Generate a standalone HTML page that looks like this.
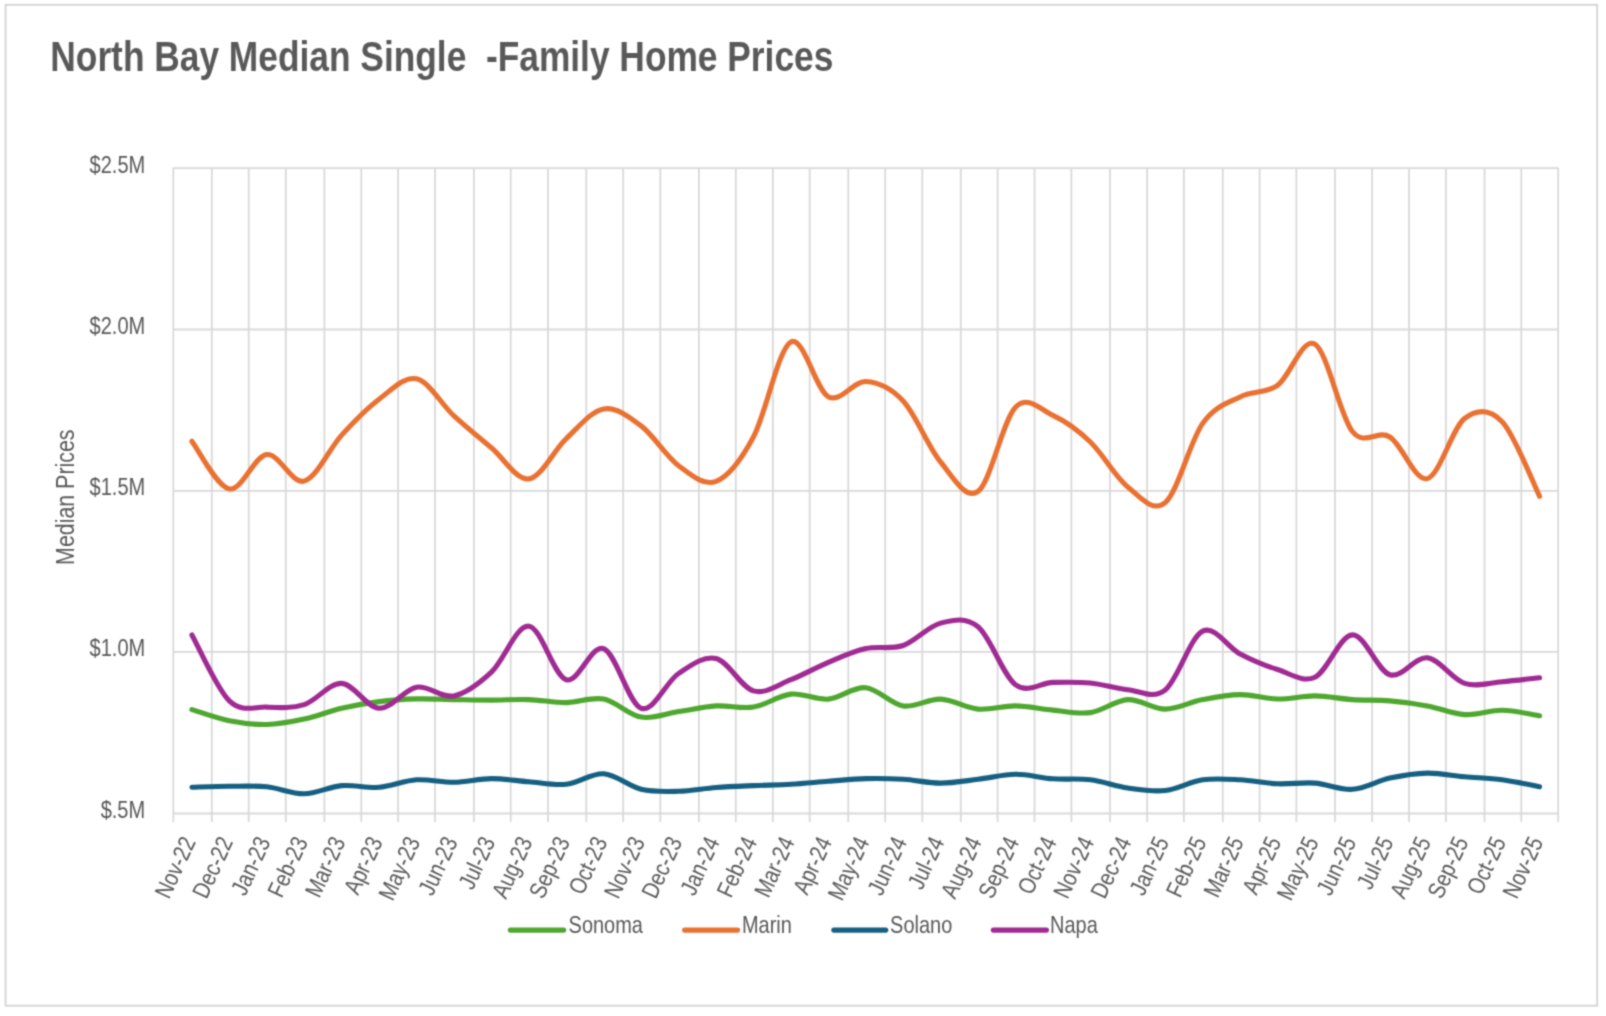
<!DOCTYPE html>
<html><head><meta charset="utf-8"><title>North Bay Median Single-Family Home Prices</title>
<style>
html,body{margin:0;padding:0;background:#fff;}
body{width:1606px;height:1016px;overflow:hidden;font-family:"Liberation Sans",sans-serif;}
svg{display:block;}
svg text{font-family:"Liberation Sans",sans-serif;fill:#595959;}
</style></head><body>
<svg width="1606" height="1016" viewBox="0 0 1606 1016">
<defs><filter id="soft" x="0" y="0" width="1606" height="1016" filterUnits="userSpaceOnUse" color-interpolation-filters="sRGB"><feConvolveMatrix order="3" kernelMatrix="0.04000 0.12000 0.04000 0.12000 0.36000 0.12000 0.04000 0.12000 0.04000" divisor="1" edgeMode="duplicate" preserveAlpha="true"/></filter></defs>
<g filter="url(#soft)">
<rect x="0" y="0" width="1606" height="1016" fill="#fff"/>
<rect x="5.6" y="4.8" width="1591.6" height="1000.9" fill="none" stroke="#D3D3D3" stroke-width="1.8"/>
<path d="M172.50,168.20H1559.00M172.50,329.50H1559.00M172.50,490.80H1559.00M172.50,651.80H1559.00M172.50,813.50H1559.00M173.30,168.20V822.10M211.80,168.20V822.10M248.70,168.20V822.10M285.80,168.20V822.10M324.40,168.20V822.10M361.30,168.20V822.10M398.10,168.20V822.10M435.00,168.20V822.10M473.90,168.20V822.10M510.70,168.20V822.10M548.00,168.20V822.10M586.30,168.20V822.10M623.20,168.20V822.10M660.30,168.20V822.10M698.90,168.20V822.10M735.80,168.20V822.10M772.90,168.20V822.10M809.70,168.20V822.10M848.30,168.20V822.10M885.20,168.20V822.10M922.30,168.20V822.10M960.80,168.20V822.10M997.60,168.20V822.10M1034.50,168.20V822.10M1071.40,168.20V822.10M1110.00,168.20V822.10M1147.10,168.20V822.10M1183.90,168.20V822.10M1222.80,168.20V822.10M1259.60,168.20V822.10M1296.40,168.20V822.10M1335.00,168.20V822.10M1372.10,168.20V822.10M1409.00,168.20V822.10M1445.90,168.20V822.10M1484.50,168.20V822.10M1521.30,168.20V822.10M1558.20,168.20V822.10" fill="none" stroke="#D9D9D9" stroke-width="1.8"/>
<text transform="translate(50.30,70.80) scale(0.828,1)" font-size="42.67" text-anchor="start" font-weight="bold">North Bay Median Single&#160;&#160;-Family Home Prices</text>
<text transform="translate(145.20,172.80) scale(0.835,1)" font-size="24" text-anchor="end" font-weight="normal">$2.5M</text>
<text transform="translate(145.20,334.10) scale(0.835,1)" font-size="24" text-anchor="end" font-weight="normal">$2.0M</text>
<text transform="translate(145.20,495.40) scale(0.835,1)" font-size="24" text-anchor="end" font-weight="normal">$1.5M</text>
<text transform="translate(145.20,656.40) scale(0.835,1)" font-size="24" text-anchor="end" font-weight="normal">$1.0M</text>
<text transform="translate(145.20,818.10) scale(0.835,1)" font-size="24" text-anchor="end" font-weight="normal">$.5M</text>
<text transform="translate(73.90,497.20) rotate(-90) scale(0.802,1)" font-size="26.67" text-anchor="middle" font-weight="normal">Median Prices</text>
<text transform="translate(196.12,841.80) rotate(-65) scale(0.83,1)" font-size="24" text-anchor="end" font-weight="normal">Nov-22</text>
<text transform="translate(233.55,841.80) rotate(-65) scale(0.83,1)" font-size="24" text-anchor="end" font-weight="normal">Dec-22</text>
<text transform="translate(270.99,841.80) rotate(-65) scale(0.83,1)" font-size="24" text-anchor="end" font-weight="normal">Jan-23</text>
<text transform="translate(308.42,841.80) rotate(-65) scale(0.83,1)" font-size="24" text-anchor="end" font-weight="normal">Feb-23</text>
<text transform="translate(345.86,841.80) rotate(-65) scale(0.83,1)" font-size="24" text-anchor="end" font-weight="normal">Mar-23</text>
<text transform="translate(383.29,841.80) rotate(-65) scale(0.83,1)" font-size="24" text-anchor="end" font-weight="normal">Apr-23</text>
<text transform="translate(420.73,841.80) rotate(-65) scale(0.83,1)" font-size="24" text-anchor="end" font-weight="normal">May-23</text>
<text transform="translate(458.16,841.80) rotate(-65) scale(0.83,1)" font-size="24" text-anchor="end" font-weight="normal">Jun-23</text>
<text transform="translate(495.60,841.80) rotate(-65) scale(0.83,1)" font-size="24" text-anchor="end" font-weight="normal">Jul-23</text>
<text transform="translate(533.03,841.80) rotate(-65) scale(0.83,1)" font-size="24" text-anchor="end" font-weight="normal">Aug-23</text>
<text transform="translate(570.47,841.80) rotate(-65) scale(0.83,1)" font-size="24" text-anchor="end" font-weight="normal">Sep-23</text>
<text transform="translate(607.90,841.80) rotate(-65) scale(0.83,1)" font-size="24" text-anchor="end" font-weight="normal">Oct-23</text>
<text transform="translate(645.34,841.80) rotate(-65) scale(0.83,1)" font-size="24" text-anchor="end" font-weight="normal">Nov-23</text>
<text transform="translate(682.77,841.80) rotate(-65) scale(0.83,1)" font-size="24" text-anchor="end" font-weight="normal">Dec-23</text>
<text transform="translate(720.21,841.80) rotate(-65) scale(0.83,1)" font-size="24" text-anchor="end" font-weight="normal">Jan-24</text>
<text transform="translate(757.64,841.80) rotate(-65) scale(0.83,1)" font-size="24" text-anchor="end" font-weight="normal">Feb-24</text>
<text transform="translate(795.08,841.80) rotate(-65) scale(0.83,1)" font-size="24" text-anchor="end" font-weight="normal">Mar-24</text>
<text transform="translate(832.51,841.80) rotate(-65) scale(0.83,1)" font-size="24" text-anchor="end" font-weight="normal">Apr-24</text>
<text transform="translate(869.95,841.80) rotate(-65) scale(0.83,1)" font-size="24" text-anchor="end" font-weight="normal">May-24</text>
<text transform="translate(907.39,841.80) rotate(-65) scale(0.83,1)" font-size="24" text-anchor="end" font-weight="normal">Jun-24</text>
<text transform="translate(944.82,841.80) rotate(-65) scale(0.83,1)" font-size="24" text-anchor="end" font-weight="normal">Jul-24</text>
<text transform="translate(982.26,841.80) rotate(-65) scale(0.83,1)" font-size="24" text-anchor="end" font-weight="normal">Aug-24</text>
<text transform="translate(1019.69,841.80) rotate(-65) scale(0.83,1)" font-size="24" text-anchor="end" font-weight="normal">Sep-24</text>
<text transform="translate(1057.13,841.80) rotate(-65) scale(0.83,1)" font-size="24" text-anchor="end" font-weight="normal">Oct-24</text>
<text transform="translate(1094.56,841.80) rotate(-65) scale(0.83,1)" font-size="24" text-anchor="end" font-weight="normal">Nov-24</text>
<text transform="translate(1132.00,841.80) rotate(-65) scale(0.83,1)" font-size="24" text-anchor="end" font-weight="normal">Dec-24</text>
<text transform="translate(1169.43,841.80) rotate(-65) scale(0.83,1)" font-size="24" text-anchor="end" font-weight="normal">Jan-25</text>
<text transform="translate(1206.87,841.80) rotate(-65) scale(0.83,1)" font-size="24" text-anchor="end" font-weight="normal">Feb-25</text>
<text transform="translate(1244.30,841.80) rotate(-65) scale(0.83,1)" font-size="24" text-anchor="end" font-weight="normal">Mar-25</text>
<text transform="translate(1281.74,841.80) rotate(-65) scale(0.83,1)" font-size="24" text-anchor="end" font-weight="normal">Apr-25</text>
<text transform="translate(1319.17,841.80) rotate(-65) scale(0.83,1)" font-size="24" text-anchor="end" font-weight="normal">May-25</text>
<text transform="translate(1356.61,841.80) rotate(-65) scale(0.83,1)" font-size="24" text-anchor="end" font-weight="normal">Jun-25</text>
<text transform="translate(1394.04,841.80) rotate(-65) scale(0.83,1)" font-size="24" text-anchor="end" font-weight="normal">Jul-25</text>
<text transform="translate(1431.48,841.80) rotate(-65) scale(0.83,1)" font-size="24" text-anchor="end" font-weight="normal">Aug-25</text>
<text transform="translate(1468.91,841.80) rotate(-65) scale(0.83,1)" font-size="24" text-anchor="end" font-weight="normal">Sep-25</text>
<text transform="translate(1506.35,841.80) rotate(-65) scale(0.83,1)" font-size="24" text-anchor="end" font-weight="normal">Oct-25</text>
<text transform="translate(1543.78,841.80) rotate(-65) scale(0.83,1)" font-size="24" text-anchor="end" font-weight="normal">Nov-25</text>
<path d="M191.92,709.60C198.16,711.47 216.87,718.32 229.35,720.80C241.83,723.28 254.31,724.78 266.79,724.50C279.27,724.22 291.74,721.80 304.22,719.10C316.70,716.40 329.18,711.22 341.66,708.30C354.14,705.38 366.61,703.17 379.09,701.60C391.57,700.03 404.05,699.23 416.53,698.90C429.01,698.57 441.49,699.40 453.96,699.60C466.44,699.80 478.92,700.10 491.40,700.10C503.88,700.10 516.36,699.18 528.83,699.60C541.31,700.02 553.79,702.68 566.27,702.60C578.75,702.52 591.23,696.68 603.70,699.10C616.18,701.52 628.66,715.02 641.14,717.10C653.62,719.18 666.10,713.47 678.57,711.60C691.05,709.73 703.53,706.65 716.01,705.90C728.49,705.15 740.97,709.07 753.44,707.10C765.92,705.13 778.40,695.43 790.88,694.10C803.36,692.77 815.84,700.17 828.31,699.10C840.79,698.03 853.27,686.57 865.75,687.70C878.23,688.83 890.71,704.00 903.19,705.90C915.66,707.80 928.14,698.57 940.62,699.10C953.10,699.63 965.58,707.97 978.06,709.10C990.53,710.23 1003.01,705.73 1015.49,705.90C1027.97,706.07 1040.45,708.98 1052.93,710.10C1065.40,711.22 1077.88,714.35 1090.36,712.60C1102.84,710.85 1115.32,700.18 1127.80,699.60C1140.27,699.02 1152.75,709.10 1165.23,709.10C1177.71,709.10 1190.19,702.02 1202.67,699.60C1215.14,697.18 1227.62,694.70 1240.10,694.60C1252.58,694.50 1265.06,698.78 1277.54,699.00C1290.01,699.22 1302.49,695.80 1314.97,695.90C1327.45,696.00 1339.93,698.77 1352.41,699.60C1364.89,700.43 1377.36,699.85 1389.84,700.90C1402.32,701.95 1414.80,703.62 1427.28,705.90C1439.76,708.18 1452.23,713.87 1464.71,714.60C1477.19,715.33 1489.67,710.10 1502.15,710.30C1514.63,710.50 1533.34,714.88 1539.58,715.80" fill="none" stroke="#4EA72E" stroke-width="5.1" stroke-linecap="round" stroke-linejoin="round"/>
<path d="M191.92,441.30C198.16,449.23 216.87,486.70 229.35,488.90C241.83,491.10 254.31,455.80 266.79,454.50C279.27,453.20 291.74,484.33 304.22,481.10C316.70,477.87 329.18,448.75 341.66,435.10C354.14,421.45 366.61,408.58 379.09,399.20C391.57,389.82 404.05,376.02 416.53,378.80C429.01,381.58 441.49,404.40 453.96,415.90C466.44,427.40 478.92,437.30 491.40,447.80C503.88,458.30 516.36,480.43 528.83,478.90C541.31,477.37 553.79,450.27 566.27,438.60C578.75,426.93 591.23,411.02 603.70,408.90C616.18,406.78 628.66,416.43 641.14,425.90C653.62,435.37 666.10,456.45 678.57,465.70C691.05,474.95 703.53,486.18 716.01,481.40C728.49,476.62 740.97,460.25 753.44,437.00C765.92,413.75 778.40,348.62 790.88,341.90C803.36,335.18 815.84,390.10 828.31,396.70C840.79,403.30 853.27,380.78 865.75,381.50C878.23,382.22 890.71,387.58 903.19,401.00C915.66,414.42 928.14,446.93 940.62,462.00C953.10,477.07 965.58,500.53 978.06,491.40C990.53,482.27 1003.01,419.87 1015.49,407.20C1027.97,394.53 1040.45,409.60 1052.93,415.40C1065.40,421.20 1077.88,430.07 1090.36,442.00C1102.84,453.93 1115.32,476.90 1127.80,487.00C1140.27,497.10 1152.75,513.20 1165.23,502.60C1177.71,492.00 1190.19,441.02 1202.67,423.40C1215.14,405.78 1227.62,403.25 1240.10,396.90C1252.58,390.55 1265.06,394.08 1277.54,385.30C1290.01,376.52 1302.49,336.50 1314.97,344.20C1327.45,351.90 1339.93,416.03 1352.41,431.50C1364.89,446.97 1377.36,429.15 1389.84,437.00C1402.32,444.85 1414.80,481.70 1427.28,478.60C1439.76,475.50 1452.23,427.88 1464.71,418.40C1477.19,408.92 1489.67,408.72 1502.15,421.70C1514.63,434.68 1533.34,483.87 1539.58,496.30" fill="none" stroke="#E97132" stroke-width="5.1" stroke-linecap="round" stroke-linejoin="round"/>
<path d="M191.92,787.30C198.16,787.13 216.87,786.38 229.35,786.30C241.83,786.22 254.31,785.55 266.79,786.80C279.27,788.05 291.74,794.00 304.22,793.80C316.70,793.60 329.18,786.68 341.66,785.60C354.14,784.52 366.61,788.27 379.09,787.30C391.57,786.33 404.05,780.63 416.53,779.80C429.01,778.97 441.49,782.50 453.96,782.30C466.44,782.10 478.92,778.68 491.40,778.60C503.88,778.52 516.36,780.85 528.83,781.80C541.31,782.75 553.79,785.63 566.27,784.30C578.75,782.97 591.23,772.97 603.70,773.80C616.18,774.63 628.66,786.38 641.14,789.30C653.62,792.22 666.10,791.60 678.57,791.30C691.05,791.00 703.53,788.45 716.01,787.50C728.49,786.55 740.97,786.13 753.44,785.60C765.92,785.07 778.40,785.02 790.88,784.30C803.36,783.58 815.84,782.25 828.31,781.30C840.79,780.35 853.27,778.93 865.75,778.60C878.23,778.27 890.71,778.55 903.19,779.30C915.66,780.05 928.14,783.10 940.62,783.10C953.10,783.10 965.58,780.77 978.06,779.30C990.53,777.83 1003.01,774.38 1015.49,774.30C1027.97,774.22 1040.45,777.88 1052.93,778.80C1065.40,779.72 1077.88,778.27 1090.36,779.80C1102.84,781.33 1115.32,786.22 1127.80,788.00C1140.27,789.78 1152.75,791.87 1165.23,790.50C1177.71,789.13 1190.19,781.58 1202.67,779.80C1215.14,778.02 1227.62,779.13 1240.10,779.80C1252.58,780.47 1265.06,783.25 1277.54,783.80C1290.01,784.35 1302.49,782.18 1314.97,783.10C1327.45,784.02 1339.93,790.13 1352.41,789.30C1364.89,788.47 1377.36,780.80 1389.84,778.10C1402.32,775.40 1414.80,773.32 1427.28,773.10C1439.76,772.88 1452.23,775.68 1464.71,776.80C1477.19,777.92 1489.67,778.13 1502.15,779.80C1514.63,781.47 1533.34,785.63 1539.58,786.80" fill="none" stroke="#156082" stroke-width="5.1" stroke-linecap="round" stroke-linejoin="round"/>
<path d="M191.92,634.90C198.16,645.90 216.87,688.87 229.35,700.90C241.83,712.93 254.31,706.48 266.79,707.10C279.27,707.72 291.74,708.55 304.22,704.60C316.70,700.65 329.18,682.78 341.66,683.40C354.14,684.02 366.61,707.67 379.09,708.30C391.57,708.93 404.05,689.27 416.53,687.20C429.01,685.13 441.49,698.40 453.96,695.90C466.44,693.40 478.92,683.82 491.40,672.20C503.88,660.58 516.36,624.95 528.83,626.20C541.31,627.45 553.79,675.97 566.27,679.70C578.75,683.43 591.23,643.83 603.70,648.60C616.18,653.37 628.66,704.15 641.14,708.30C653.62,712.45 666.10,681.80 678.57,673.50C691.05,665.20 703.53,655.60 716.01,658.50C728.49,661.40 740.97,687.37 753.44,690.90C765.92,694.43 778.40,684.47 790.88,679.70C803.36,674.93 815.84,667.48 828.31,662.30C840.79,657.12 853.27,651.40 865.75,648.60C878.23,645.80 890.71,649.75 903.19,645.50C915.66,641.25 928.14,626.22 940.62,623.10C953.10,619.98 965.58,616.53 978.06,626.80C990.53,637.07 1003.01,675.43 1015.49,684.70C1027.97,693.97 1040.45,682.68 1052.93,682.40C1065.40,682.12 1077.88,681.78 1090.36,683.00C1102.84,684.22 1115.32,688.53 1127.80,689.70C1140.27,690.87 1152.75,699.77 1165.23,690.00C1177.71,680.23 1190.19,637.12 1202.67,631.10C1215.14,625.08 1227.62,647.50 1240.10,653.90C1252.58,660.30 1265.06,665.62 1277.54,669.50C1290.01,673.38 1302.49,682.97 1314.97,677.20C1327.45,671.43 1339.93,635.32 1352.41,634.90C1364.89,634.48 1377.36,670.88 1389.84,674.70C1402.32,678.52 1414.80,656.35 1427.28,657.80C1439.76,659.25 1452.23,679.42 1464.71,683.40C1477.19,687.38 1489.67,682.65 1502.15,681.70C1514.63,680.75 1533.34,678.37 1539.58,677.70" fill="none" stroke="#A02B93" stroke-width="5.1" stroke-linecap="round" stroke-linejoin="round"/>
<path d="M510.3,930.1H563.7" stroke="#4EA72E" stroke-width="5.1" stroke-linecap="round" fill="none"/>
<text transform="translate(568.60,932.50) scale(0.832,1)" font-size="24" text-anchor="start" font-weight="normal">Sonoma</text>
<path d="M684.6,930.1H737.6" stroke="#E97132" stroke-width="5.1" stroke-linecap="round" fill="none"/>
<text transform="translate(742.00,932.50) scale(0.832,1)" font-size="24" text-anchor="start" font-weight="normal">Marin</text>
<path d="M833.8,930.1H885.8" stroke="#156082" stroke-width="5.1" stroke-linecap="round" fill="none"/>
<text transform="translate(890.10,932.50) scale(0.832,1)" font-size="24" text-anchor="start" font-weight="normal">Solano</text>
<path d="M993.3,930.1H1046.5" stroke="#A02B93" stroke-width="5.1" stroke-linecap="round" fill="none"/>
<text transform="translate(1050.10,932.50) scale(0.832,1)" font-size="24" text-anchor="start" font-weight="normal">Napa</text>
</g></svg></body></html>
